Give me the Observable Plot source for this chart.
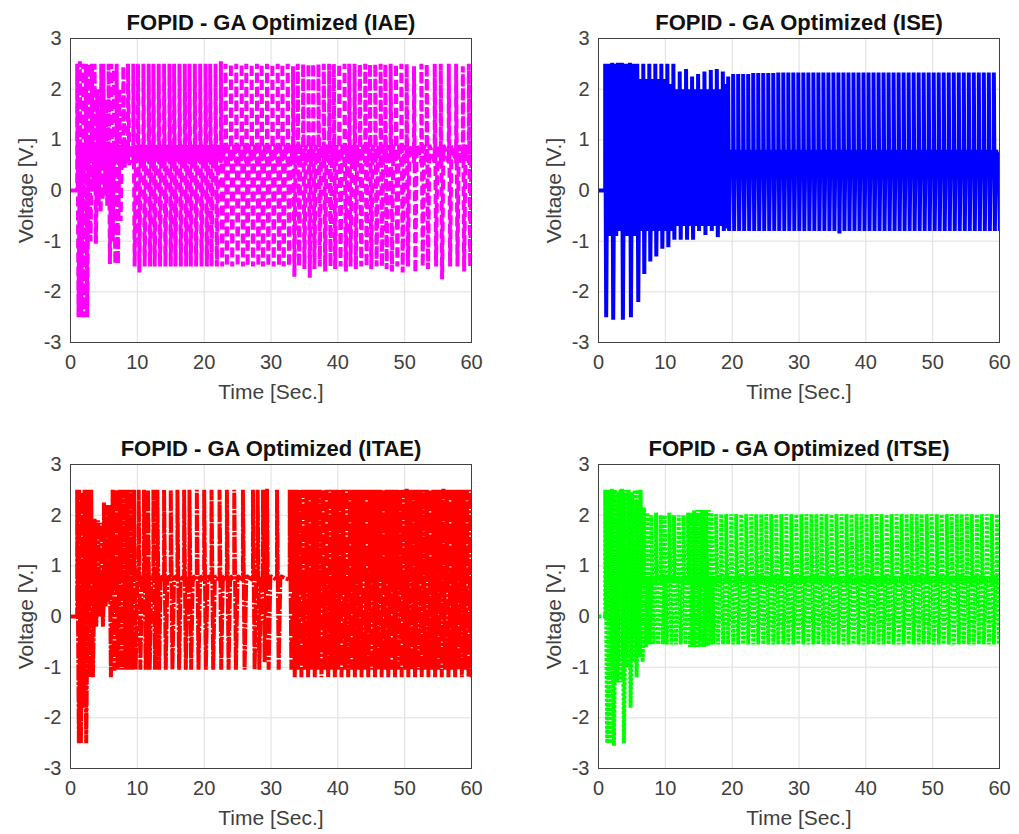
<!DOCTYPE html>
<html><head><meta charset="utf-8">
<script src="https://cdn.jsdelivr.net/npm/d3@7"></script>
<script src="https://cdn.jsdelivr.net/npm/@observablehq/plot@0.6"></script>
<style>
body{margin:0;background:#fff;}
#wrap{position:relative;width:1019px;height:834px;background:#fff;}
.panel{position:absolute;}
</style></head><body><div id="wrap"></div>
<script>
// Axis ticks
const xTicks = [0, 10, 20, 30, 40, 50, 60];
const yTicks = [-3, -2, -1, 0, 1, 2, 3];
const panelTitles = ["FOPID - GA Optimized (IAE)", "FOPID - GA Optimized (ISE)", "FOPID - GA Optimized (ITAE)", "FOPID - GA Optimized (ITSE)"];
const xLabel = "Time [Sec.]";
const yLabel = "Voltage [V.]";

// Each pulse: [time (s), peak high (V), peak low (V)]
const iaePulses = [
 [1.0,2.5,-2.5],[1.4,2.55,-2.5],[1.9,2.5,-2.5],[2.3,2.5,-2.5],[2.8,2.5,-1.0],[3.2,2.5,0.0],[3.6,2.5,-1.05],[4.0,2.0,-0.3],
 [4.3,1.6,-0.45],[4.6,2.5,-0.2],[4.9,2.5,-0.1],[5.3,1.8,-0.3],[5.7,2.5,-1.45],[6.1,2.5,-1.0],[6.5,2.4,-1.45],[6.9,2.5,-1.45],
 [7.3,2.0,-0.6],[7.9,2.45,0.45],[8.6,2.5,0.5],
 [9.4,2.5,-1.5],[10.1,2.5,-1.62],[10.9,2.5,-1.5],[11.7,2.5,-1.5],[12.4,2.5,-1.5],[13.2,2.5,-1.5],[14.0,2.5,-1.5],[14.8,2.5,-1.5],
 [15.5,2.5,-1.5],[16.3,2.5,-1.5],[17.1,2.5,-1.5],[17.8,2.5,-1.5],[18.6,2.5,-1.5],[19.4,2.5,-1.5],[20.2,2.5,-1.5],[20.9,2.5,-1.5],
 [21.7,2.5,-1.5],[22.5,2.55,-1.5],[23.2,2.5,-1.5],[24.0,2.5,-1.5],[24.8,2.5,-1.5],[25.6,2.5,-1.5],[26.3,2.5,-1.5],[27.1,2.5,-1.5],
 [27.9,2.5,-1.5],[28.6,2.5,-1.5],[29.4,2.5,-1.5],[30.2,2.5,-1.5],[31.0,2.5,-1.5],[31.7,2.5,-1.5],[32.5,2.5,-1.5],[33.3,2.45,-1.7],
 [34.0,2.5,-1.5],[34.8,2.5,-1.55],[35.6,2.5,-1.72],[36.3,2.5,-1.55],[37.1,2.5,-1.5],[37.9,2.5,-1.6],[38.7,2.5,-1.5],[39.4,2.5,-1.55],
 [40.2,2.5,-1.5],[41.0,2.5,-1.6],[41.7,2.5,-1.5],[42.5,2.5,-1.55],[43.3,2.5,-1.5],[44.1,2.5,-1.5],[44.8,2.5,-1.55],[45.6,2.5,-1.5],
 [46.4,2.5,-1.5],[47.1,2.5,-1.55],[47.9,2.5,-1.6],[48.7,2.5,-1.5],[49.5,2.5,-1.62],[50.3,2.5,-1.5],[51.4,2.45,-1.62],[52.5,2.5,-1.5],
 [53.3,2.5,-1.55],[54.5,2.5,-1.5],[55.4,2.5,-1.75],[56.6,2.5,-1.5],[57.7,2.5,-1.5],[58.7,2.45,-1.6],[59.6,2.5,-1.5]
];
const isePulses = [
 [1.0,2.5,-2.5],[1.5,2.5,-0.9],[2.05,2.52,-2.55],[2.5,2.5,-0.9],[2.9,2.52,-0.8],[3.5,2.52,-2.55],[4.1,2.5,-0.9],[4.7,2.52,-2.5],
 [5.2,2.5,-0.9],[5.8,2.5,-2.2],[6.25,2.2,-0.8],[6.7,2.5,-1.65],[7.15,2.2,-0.8],[7.6,2.5,-1.4],[8.05,2.2,-0.8],[8.5,2.5,-1.3],
 [8.95,2.2,-0.8],[9.4,2.5,-1.15],[9.85,2.2,-0.8],[10.3,2.5,-1.12],[10.75,2.1,-0.8],[11.2,2.5,-0.97],[11.7,2.0,-0.7],[12.15,2.35,-0.97],
 [12.6,2.0,-0.7],[13.1,2.4,-0.97],[13.55,2.0,-0.7],[14.0,2.25,-0.97],[14.5,2.0,-0.7],[14.9,2.3,-0.8],[15.4,2.0,-0.7],[15.85,2.35,-0.88],
 [16.3,2.0,-0.7],[16.8,2.38,-0.8],[17.25,2.0,-0.7],[17.7,2.4,-0.92],[18.15,2.0,-0.7],[18.6,2.35,-0.8],[19.0,2.1,-0.75],
 [19.4,2.25,-0.8],[20.15,2.3,-0.8],[20.9,2.3,-0.8],[21.65,2.3,-0.8],[22.4,2.3,-0.8],[23.15,2.32,-0.8],[23.9,2.32,-0.8],[24.65,2.32,-0.8],
 [25.4,2.32,-0.8],[26.15,2.32,-0.8],[26.9,2.33,-0.8],[27.65,2.33,-0.8],[28.4,2.33,-0.8],[29.15,2.33,-0.8],[29.9,2.33,-0.8],[30.65,2.33,-0.8],
 [31.4,2.33,-0.8],[32.15,2.33,-0.8],[32.9,2.33,-0.8],[33.65,2.33,-0.8],[34.4,2.33,-0.8],[35.15,2.33,-0.8],[35.9,2.33,-0.85],[36.65,2.33,-0.8],
 [37.4,2.33,-0.8],[38.15,2.33,-0.8],[38.9,2.33,-0.8],[39.65,2.33,-0.8],[40.4,2.33,-0.8],[41.15,2.33,-0.8],[41.9,2.33,-0.8],[42.65,2.33,-0.8],
 [43.4,2.33,-0.8],[44.15,2.33,-0.8],[44.9,2.33,-0.8],[45.65,2.33,-0.8],[46.4,2.33,-0.8],[47.15,2.33,-0.8],[47.9,2.33,-0.8],[48.65,2.33,-0.8],
 [49.4,2.33,-0.8],[50.15,2.33,-0.8],[50.9,2.33,-0.8],[51.65,2.33,-0.8],[52.4,2.33,-0.8],[53.15,2.33,-0.8],[53.9,2.33,-0.8],[54.65,2.33,-0.8],
 [55.4,2.33,-0.8],[56.15,2.33,-0.8],[56.9,2.33,-0.8],[57.65,2.33,-0.8],[58.4,2.33,-0.8],[59.15,2.33,-0.8],[59.9,0.75,-0.8]
];
const itaePulses = [
 [1.0,2.5,-2.5],[1.3,2.5,-2.5],[1.7,2.45,-1.8],[2.1,2.5,-2.5],[2.6,2.5,-1.2],[3.1,2.5,-1.2],[3.6,1.93,-0.2],[4.1,1.9,0.0],
 [4.6,1.85,-0.2],[5.0,2.25,0.2],[5.4,2.2,0.3],[5.8,2.2,-1.2],
 [6.3,2.5,-1.07],[6.8,2.5,-1.05],[7.4,2.5,-1.05],[8.0,2.5,-1.05],[8.5,2.5,-1.05],[9.0,2.5,-1.05],[9.5,2.5,-1.05],[10.2,2.5,-1.05],
 [11.0,2.5,-1.05],[11.6,2.5,-1.05],[12.4,2.5,-1.05],[13.0,2.5,-1.05],[14.0,2.5,-1.05],[15.0,2.5,-1.05],[16.0,2.5,-1.05],[17.0,2.5,-1.05],
 [17.8,2.5,-1.05],[18.9,2.5,-1.05],[20.0,2.5,-1.05],[21.1,2.5,-1.05],[22.3,2.5,-1.05],[23.4,2.5,-1.05],[24.5,2.5,-1.05],[25.8,2.5,-1.05],
 [27.3,2.5,-1.05],[28.0,2.5,-1.05],[28.8,2.5,-0.9],[29.4,2.52,-1.05],[30.9,2.5,-1.05],
 [32.8,2.5,-1.05],[33.3,2.5,-1.2],[33.8,2.5,-1.05],[34.3,2.5,-1.2],[34.8,2.5,-1.05],[35.3,2.5,-1.2],[35.8,2.5,-1.05],[36.3,2.5,-1.2],
 [36.8,2.5,-1.05],[37.3,2.5,-1.2],[37.8,2.5,-1.05],[38.3,2.5,-1.2],[38.8,2.5,-1.05],[39.3,2.5,-1.2],[39.8,2.5,-1.05],[40.3,2.5,-1.2],
 [40.8,2.5,-1.05],[41.3,2.5,-1.2],[41.8,2.5,-1.05],[42.3,2.5,-1.2],[42.8,2.5,-1.05],[43.3,2.5,-1.2],[43.8,2.5,-1.05],[44.3,2.5,-1.2],
 [44.8,2.5,-1.05],[45.3,2.5,-1.2],[45.8,2.5,-1.05],[46.3,2.5,-1.2],[46.8,2.5,-1.05],[47.3,2.5,-1.2],[47.8,2.5,-1.05],[48.3,2.5,-1.2],
 [48.8,2.5,-1.05],[49.3,2.5,-1.2],[49.8,2.5,-1.05],[50.3,2.52,-1.2],[50.8,2.5,-1.05],[51.3,2.5,-1.2],[51.8,2.5,-1.05],[52.3,2.5,-1.2],
 [52.8,2.5,-1.05],[53.3,2.5,-1.2],[53.8,2.5,-1.05],[54.3,2.5,-1.2],[54.8,2.5,-1.05],[55.3,2.5,-1.2],[55.8,2.52,-1.05],[56.3,2.5,-1.2],
 [56.8,2.5,-1.05],[57.3,2.5,-1.2],[57.8,2.5,-1.05],[58.3,2.5,-1.2],[58.8,2.5,-1.05],[59.3,2.5,-1.2],[59.8,2.5,-1.2]
];
const itsePulses = [
 [1.0,2.5,-2.5],[1.3,2.5,-1.2],[1.5,2.5,-2.5],[1.8,2.48,-1.0],[2.0,2.52,-2.55],[2.3,2.5,-0.8],[2.5,2.5,-1.3],[2.8,2.45,-0.9],
 [3.0,2.45,-1.3],[3.3,2.5,-0.8],[3.5,2.52,-2.5],[3.8,2.45,-0.7],[4.0,2.5,-1.0],[4.3,2.4,-0.6],[4.5,2.5,-1.8],[4.8,2.4,-0.5],
 [5.0,2.45,-0.9],[5.2,2.3,-0.4],[5.4,2.5,-1.2],[5.7,2.3,-0.4],[5.9,2.5,-0.8],[6.3,2.5,-0.9],[6.8,2.15,-0.6],[7.3,2.05,-0.55],
 [7.9,2.0,-0.55],[8.6,2.05,-0.55],[9.3,2.0,-0.55],[9.9,2.0,-0.55],[10.6,2.05,-0.55],[11.3,2.0,-0.55],[12.0,2.0,-0.55],[12.7,2.0,-0.55],
 [13.4,2.05,-0.6],[13.7,2.05,-0.6],[14.0,2.05,-0.62],[14.3,2.1,-0.6],[14.6,2.05,-0.6],[14.9,2.1,-0.6],[15.2,2.05,-0.6],[15.5,2.1,-0.6],
 [15.8,2.05,-0.58],[16.1,2.1,-0.58],[16.5,2.1,-0.55],[16.9,2.05,-0.55],
 [17.6,2.02,-0.55],[18.35,2.02,-0.55],[19.1,2.02,-0.55],[19.85,2.02,-0.55],[20.6,2.02,-0.55],[21.35,2.02,-0.55],[22.1,2.02,-0.55],[22.85,2.02,-0.55],
 [23.6,2.02,-0.55],[24.35,2.02,-0.55],[25.1,2.02,-0.55],[25.85,2.02,-0.55],[26.6,2.02,-0.55],[27.35,2.02,-0.55],[28.1,2.02,-0.55],[28.85,2.02,-0.55],
 [29.6,2.02,-0.55],[30.35,2.02,-0.55],[31.1,2.02,-0.55],[31.85,2.02,-0.55],[32.6,2.02,-0.55],[33.35,2.02,-0.55],[34.1,2.02,-0.55],[34.85,2.02,-0.55],
 [35.6,2.02,-0.55],[36.35,2.02,-0.55],[37.1,2.02,-0.55],[37.85,2.02,-0.55],[38.6,2.02,-0.55],[39.35,2.02,-0.55],[40.1,2.02,-0.55],[40.85,2.02,-0.55],
 [41.6,2.02,-0.55],[42.35,2.02,-0.55],[43.1,2.02,-0.55],[43.85,2.02,-0.55],[44.6,2.02,-0.55],[45.35,2.02,-0.55],[46.1,2.02,-0.55],[46.85,2.02,-0.55],
 [47.6,2.02,-0.55],[48.35,2.02,-0.55],[49.1,2.02,-0.55],[49.85,2.02,-0.55],[50.6,2.02,-0.55],[51.35,2.02,-0.55],[52.1,2.02,-0.55],[52.85,2.02,-0.55],
 [53.6,2.02,-0.55],[54.35,2.02,-0.55],[55.1,2.02,-0.55],[55.85,2.02,-0.55],[56.6,2.02,-0.55],[57.35,2.02,-0.55],[58.1,2.02,-0.55],[58.85,2.02,-0.55],
 [59.6,2.02,-0.55]
];
// Settling levels between pulses [before, after] and starting level
const iaeMid = [0.55, 0.9];
const iseMid = [0.58, 0.8];
const itaeMid = [0.72, 0.8];
const itseMid = [0.65, 0.8];
const startLevel = 0;

function toPath(pulses, mids, offset) {
  const pts = [{t: 0, v: startLevel}, {t: pulses[0][0], v: startLevel}];
  pulses.forEach(([t, hi, lo], i) => {
    if (i > 0) pts.push({t, v: mids[0]});
    pts.push({t, v: hi});
    pts.push({t: t + offset, v: lo});
    pts.push({t: t + 2 * offset, v: mids[1]});
  });
  return pts;
}

const FONT = "Arial, 'Liberation Sans', Helvetica, sans-serif";
const fmt = d => String(d);
function panel(pulses, mids, offset, color, dash, width, title, left, top) {
  const p = Plot.plot({
    width: 500, height: 415,
    marginLeft: 70, marginRight: 29, marginTop: 38, marginBottom: 73,
    style: {fontSize: "20px", color: "#404040", fontFamily: FONT, background: "#fff"},
    x: {domain: [0, 60], ticks: xTicks, tickSize: 0, tickPadding: 12, tickFormat: fmt, label: null},
    y: {domain: [-3, 3], ticks: yTicks, tickSize: 0, tickPadding: 9, tickFormat: fmt, label: null},
    marks: [
      Plot.gridX(xTicks, {stroke: "#dedede", strokeOpacity: 1}),
      Plot.gridY(yTicks, {stroke: "#dedede", strokeOpacity: 1}),
      Plot.line(toPath(pulses, mids, offset), {x: "t", y: "v", stroke: color, strokeWidth: width,
        strokeDasharray: dash, clip: true, strokeLinejoin: "miter", strokeLinecap: "butt"}),
      Plot.frame({stroke: "#404040"}),
      Plot.text([title], {text: d => d, frameAnchor: "top", lineAnchor: "middle", dy: -16, fontWeight: "bold", fontSize: 22, fill: "#111"}),
      Plot.text([xLabel], {text: d => d, frameAnchor: "bottom", lineAnchor: "middle", dy: 50, fontSize: 21, fill: "#404040"}),
      Plot.text([yLabel], {text: d => d, frameAnchor: "left", textAnchor: "middle", lineAnchor: "middle", rotate: -90, dx: -44, fontSize: 21, fill: "#404040"})
    ]
  });
  p.classList.add("panel");
  p.style.left = left + "px";
  p.style.top = top + "px";
  document.getElementById("wrap").appendChild(p);
}

panel(iaePulses, iaeMid, 0.2, "#ff00ff", "10,4", 4, panelTitles[0], 0, 0);
panel(isePulses, iseMid, 0.15, "#0000ff", null, 4, panelTitles[1], 528, 0);
panel(itaePulses, itaeMid, 0.25, "#ff0000", "16,1.5,3,1.5", 4, panelTitles[2], 0, 426);
panel(itsePulses, itseMid, 0.3, "#00ff00", "3,1.5", 4, panelTitles[3], 528, 426);
</script></body></html>
